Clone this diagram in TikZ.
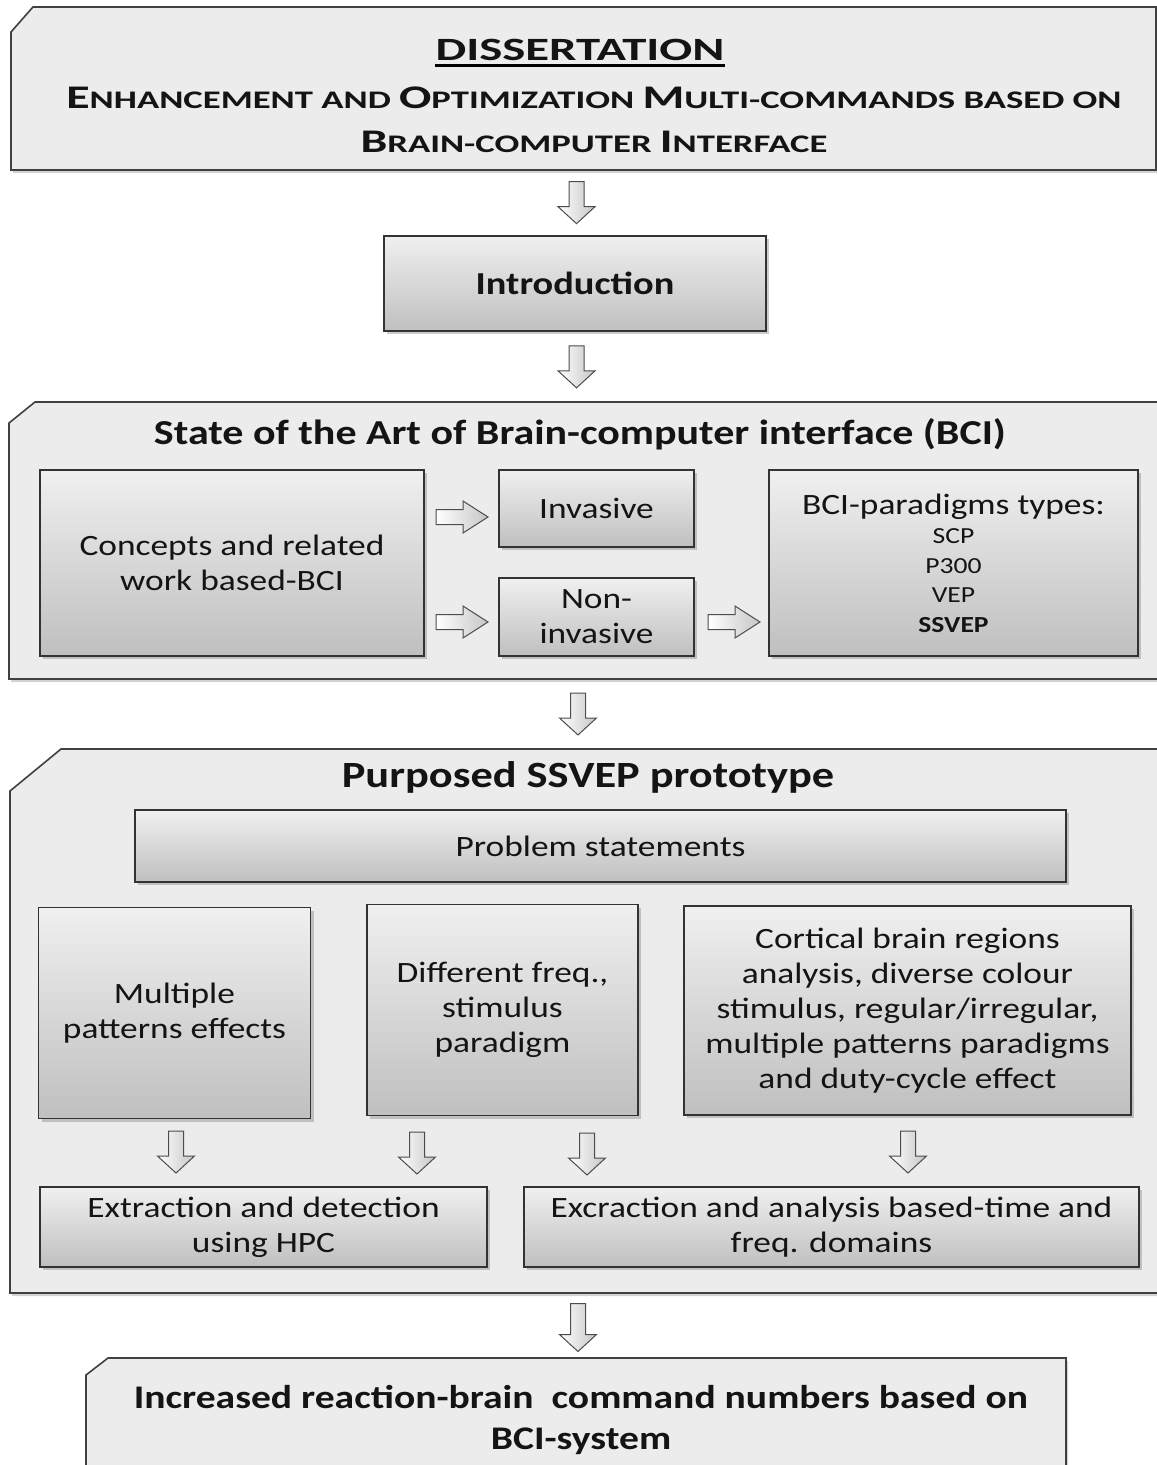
\documentclass[tikz,border=0pt]{standalone}
\usepackage{fontspec}
\setmainfont{Carlito}[FakeStretch=1.2]
\newfontfamily\wideface{Carlito}[FakeStretch=1.45]
\newfontfamily\dissface{Carlito}[FakeStretch=1.5]
\usetikzlibrary{shadows,calc}
\newcommand\capit[1]{{\fontsize{33}{44}\selectfont #1}}
\begin{document}
\begin{tikzpicture}[x=1pt,y=-1pt,
  every node/.style={text=black!92},
  frame/.style={draw=black!75, line width=1.6pt, fill=gray!15,
    drop shadow={shadow xshift=2pt,shadow yshift=-3pt,opacity=0.35}},
  ibox/.style={draw=black!80, line width=1.4pt, top color=gray!12, bottom color=gray!50,
    drop shadow={shadow xshift=3pt,shadow yshift=-3pt,opacity=0.4},
    align=center, inner sep=0pt, font=\fontsize{29.5}{35}\selectfont},
  ttext/.style={inner sep=0pt, align=center, font=\bfseries\fontsize{35}{41}\selectfont},
  arrowfill/.style={draw=black!70, line width=1pt, left color=white, right color=gray!45},
  pics/darr/.style={code={\path[arrowfill] (-7.5,-#1) -- (7.5,-#1) -- (7.5,#1-17) -- (18.5,#1-17)
      -- (0,#1) -- (-18.5,#1-17) -- (-7.5,#1-17) -- cycle;}},
  pics/darr/.default=21,
  pics/rarr/.style={code={\path[arrowfill] (-26,-7.5) -- (1,-7.5) -- (1,-16) -- (26,0)
      -- (1,16) -- (1,7.5) -- (-26,7.5) -- cycle;}}
]
\useasboundingbox (0,0) rectangle (1157,1465);
\clip (0,0) rectangle (1157,1465);

% ---- frames
\path[frame] (11,32) -- (33,7) -- (1156,7) -- (1156,170) -- (11,170) -- cycle;
\path[frame] (9,423) -- (35,402) -- (1162,402) -- (1162,679) -- (9,679) -- cycle;
\path[frame] (10,791) -- (61,749) -- (1162,749) -- (1162,1293) -- (10,1293) -- cycle;
\path[frame] (86,1375) -- (108,1358) -- (1066,1358) -- (1066,1490) -- (86,1490) -- cycle;
\coordinate (topbot) at (578,170);
\coordinate (statetop) at (578,402);
\coordinate (statebot) at (578,679);
\coordinate (purptop) at (578,749);
\coordinate (purpbot) at (578,1293);
\coordinate (finaltop) at (578,1358);

% ---- top box
\node[inner sep=0pt, font=\dissface\bfseries\fontsize{32.5}{36}\selectfont] (diss) at (580,50) {DISSERTATION};
\draw[line width=2.5pt] ([yshift=-5pt]diss.base west) -- ([yshift=-5pt]diss.base east);
\node[inner sep=0pt, align=center, font=\wideface\bfseries\fontsize{25.3}{44}\selectfont] (sub) at (594,120)
  {\capit{E}NHANCEMENT AND \capit{O}PTIMIZATION \capit{M}ULTI-COMMANDS BASED ON\\
   \capit{B}RAIN-COMPUTER \capit{I}NTERFACE};

% ---- introduction
\node[ibox, minimum width=382pt, minimum height=95pt, font=\bfseries\fontsize{32}{36}\selectfont] (intro) at (575,283.5) {Introduction};

% ---- state of the art
\node[ttext] (statet) at (580,434) {State of the Art of Brain-computer interface (BCI)};
\node[ibox, minimum width=384pt, minimum height=186pt] (concepts) at (232,563) {Concepts and related\\work based-BCI};
\node[ibox, minimum width=195pt, minimum height=77pt] (inv) at (596.5,508.5) {Invasive};
\node[ibox, minimum width=195pt, minimum height=78pt] (noninv) at (596.5,617) {Non-\\invasive};
\node[ibox, minimum width=369pt, minimum height=186pt, font=\fontsize{23}{29.5}\selectfont] (types) at (953.5,563)
  {{\fontsize{29.5}{35}\selectfont BCI-paradigms types:}\\SCP\\P300\\VEP\\\textbf{SSVEP}};
\pic (ra1) at (462,517) {rarr};
\pic (ra2) at (462,622) {rarr};
\pic (ra3) at (734,622) {rarr};

% ---- purposed prototype
\node[ttext, font=\bfseries\fontsize{37}{41}\selectfont] (purpt) at (588,777) {Purposed SSVEP prototype};
\node[ibox, minimum width=931pt, minimum height=72pt] (prob) at (600.5,846) {Problem statements};
\node[ibox, minimum width=272pt, minimum height=211pt] (multi) at (174.5,1013) {Multiple\\patterns effects};
\node[ibox, minimum width=271pt, minimum height=211pt] (diff) at (502.5,1010) {Different freq.,\\stimulus\\paradigm};
\node[ibox, minimum width=447pt, minimum height=209pt] (cort) at (907.5,1010.5)
  {Cortical brain regions\\analysis, diverse colour\\stimulus, regular/irregular,\\multiple patterns paradigms\\and duty-cycle effect};
\node[ibox, minimum width=447pt, minimum height=80pt] (extr) at (263.5,1227) {Extraction and detection\\using HPC};
\node[ibox, minimum width=615pt, minimum height=80pt] (excr) at (831.5,1227) {Excraction and analysis based-time and\\freq. domains};
\pic (d5) at (176,1152) {darr};
\pic (d6) at (417,1153) {darr};
\pic (d7) at (587,1154) {darr};
\pic (d8) at (908,1152) {darr};

% ---- final
\node[ttext, font=\bfseries\fontsize{33}{41}\selectfont] (final) at (581,1420) {Increased reaction-brain\ \ command numbers based on\\BCI-system};

% ---- main flow arrows
\pic (d1) at ($(topbot)!0.5!(intro.north)$) {darr};
\pic (d2) at ($(intro.south)!0.5!(statetop)$) {darr};
\pic (d3) at ($(statebot)!0.5!(purptop)$) {darr};
\pic (d4) at ($(purpbot)!0.5!(finaltop)+(0,2)$) {darr=24};
\end{tikzpicture}
\end{document}
